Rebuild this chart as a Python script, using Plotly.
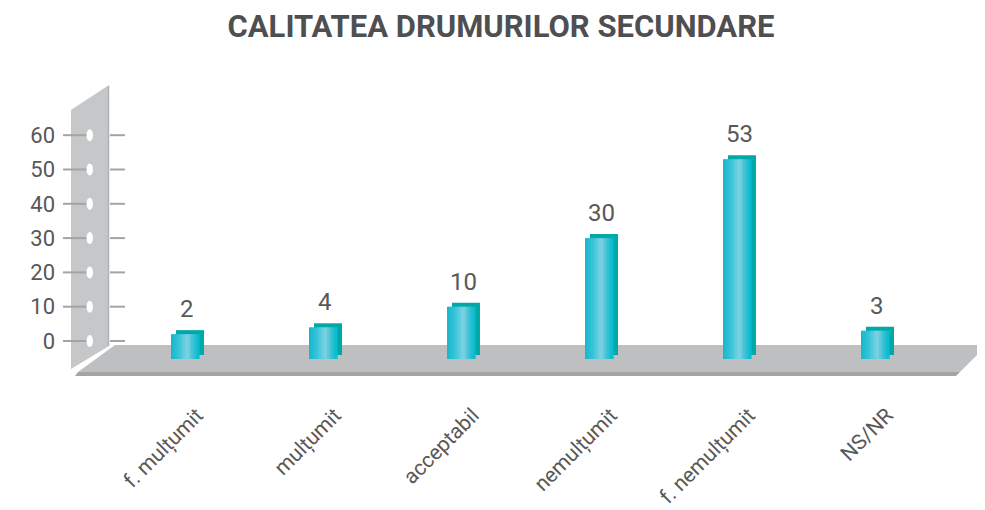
import plotly.graph_objects as go

# ---------------- data ----------------
title_text = "CALITATEA DRUMURILOR SECUNDARE"
categories = ["f. mulțumit", "mulțumit", "acceptabil", "nemulțumit", "f. nemulțumit", "NS/NR"]
values = [2, 4, 10, 30, 53, 3]
y_tick_values = [0, 10, 20, 30, 40, 50, 60]

# ---------------- geometry / style ----------------
# The page body has an 8px margin, so the figure starts at (8, 8) of the window.
PAGE_OFF = 8
W, H = 985 - PAGE_OFF, 510 - PAGE_OFF
# plot area in window coordinates
PL, PR, PT, PB = 66, 985, 75, 390
L, T = PL - PAGE_OFF, PT - PAGE_OFF
R, B = W - (PR - PAGE_OFF), H - (PB - PAGE_OFF)
plot_w = PR - PL
plot_h = PB - PT
PX_PER_CAT = 138.0
PX_PER_UNIT = 3.43
ZERO_PX = 341.0
FIRST_CAT_PX = 185.0

x_lo = -(FIRST_CAT_PX - PL) / PX_PER_CAT
x_range = [x_lo, x_lo + plot_w / PX_PER_CAT]
y_range = [-(PB - ZERO_PX) / PX_PER_UNIT, (ZERO_PX - PT) / PX_PER_UNIT]

def px_x(px):
    return (px - PL) / plot_w

def px_y(py):
    return (PB - py) / plot_h

def poly(points):
    return "M " + " L ".join(f"{px_x(x):.5f},{px_y(y):.5f}" for x, y in points) + " Z"

TEXT = "#58585a"
FONT = "Roboto"
WALL = "#c6c7c9"
FLOOR = "#bebfc1"
FLOOR_EDGE = "#a3a4a6"
DASH = "#a3a4a6"
SHADOW = "#00a8a7"
GRAD = [(0.0, (20, 182, 204)), (0.3, (60, 196, 216)), (0.58, (128, 210, 226)),
        (0.8, (50, 195, 214)), (1.0, (0, 186, 206))]

def grad_color(t):
    for (t0, c0), (t1, c1) in zip(GRAD[:-1], GRAD[1:]):
        if t0 <= t <= t1:
            f = (t - t0) / (t1 - t0)
            c = [round(a + (b - a) * f) for a, b in zip(c0, c1)]
            return f"rgb({c[0]},{c[1]},{c[2]})"
    return "rgb(0,186,206)"

FRONT_W_PX = 28.0
FRONT_BOTTOM_PX = 359.0
SHADOW_BOTTOM_PX = 355.0
SHADOW_LIFT_PX = 4.0
SHADOW_SHIFT_PX = 5.0
front_base = -(FRONT_BOTTOM_PX - ZERO_PX) / PX_PER_UNIT
shadow_base = -(SHADOW_BOTTOM_PX - ZERO_PX) / PX_PER_UNIT
shadow_lift = SHADOW_LIFT_PX / PX_PER_UNIT

fig = go.Figure()

# shadow (back face) bars
fig.add_trace(go.Bar(
    x=categories, y=[v + shadow_lift - shadow_base for v in values], base=shadow_base,
    width=FRONT_W_PX / PX_PER_CAT, offset=(SHADOW_SHIFT_PX - FRONT_W_PX / 2) / PX_PER_CAT,
    marker=dict(color=SHADOW, line=dict(width=0)), hoverinfo="skip", showlegend=False))

# front bars built from thin strips to imitate a cylinder gradient
N = 14
strip = FRONT_W_PX / N
for i in range(N):
    t = (i + 0.5) / N
    fig.add_trace(go.Bar(
        x=categories, y=[v - front_base for v in values], base=front_base,
        width=(strip + 0.6) / PX_PER_CAT,
        offset=(-FRONT_W_PX / 2 + i * strip) / PX_PER_CAT,
        marker=dict(color=grad_color(t), line=dict(width=0)),
        hoverinfo="skip", showlegend=False))

shapes = []
# wall
shapes.append(dict(type="path", xref="paper", yref="paper", layer="below",
                   path=poly([(71, 110), (109, 85), (109, 346), (71, 369)]),
                   fillcolor=WALL, line=dict(width=0)))
shapes.append(dict(type="line", xref="paper", yref="paper", layer="below",
                   x0=px_x(108.5), x1=px_x(108.5), y0=px_y(86), y1=px_y(346),
                   line=dict(color="#b0b1b3", width=1.5)))
# floor
shapes.append(dict(type="path", xref="paper", yref="paper", layer="below",
                   path=poly([(115, 345), (987, 345), (960, 372), (78, 372)]),
                   fillcolor=FLOOR, line=dict(width=0)))
shapes.append(dict(type="path", xref="paper", yref="paper", layer="below",
                   path=poly([(78, 372), (960, 372), (956, 376), (75, 376)]),
                   fillcolor=FLOOR_EDGE, line=dict(width=0)))
# tick dashes and wall holes
for v in y_tick_values:
    shapes.append(dict(type="line", xref="paper", yref="y", layer="below",
                       x0=px_x(63), x1=px_x(88), y0=v, y1=v,
                       line=dict(color=DASH, width=2)))
    shapes.append(dict(type="line", xref="paper", yref="y", layer="below",
                       x0=px_x(110), x1=px_x(125), y0=v, y1=v,
                       line=dict(color=DASH, width=2)))
    shapes.append(dict(type="circle", xref="paper", yref="y", layer="below",
                       ysizemode="pixel", yanchor=v, y0=-6, y1=6,
                       x0=px_x(86.5), x1=px_x(93), fillcolor="white", line=dict(width=0)))

annotations = [dict(x=c, y=v, yshift=25, xshift=2, text=str(v), showarrow=False,
                    font=dict(family=FONT, size=24, color=TEXT))
               for c, v in zip(categories, values)]

fig.update_layout(
    width=W, height=H,
    margin=dict(l=L, r=R, t=T, b=B, pad=0, autoexpand=False),
    paper_bgcolor="white", plot_bgcolor="white",
    barmode="overlay",
    title=dict(text=f"<b>{title_text}</b>", x=(501 - PAGE_OFF) / W, xanchor="center",
               yref="container", y=1 - (26 - PAGE_OFF) / H, yanchor="middle",
               font=dict(family=FONT, size=31, color="#4f4f51")),
    xaxis=dict(type="category", range=x_range, showgrid=False, zeroline=False,
               showline=False, ticks="", tickangle=-45, automargin=False,
               ticklabelstandoff=8, ticklabelshift=12,
               tickfont=dict(family=FONT, size=21, color=TEXT)),
    yaxis=dict(range=y_range, tickvals=y_tick_values, showgrid=False, zeroline=False,
               showline=False, ticks="", ticklabelstandoff=10, automargin=False,
               tickfont=dict(family=FONT, size=22, color=TEXT)),
    shapes=shapes, annotations=annotations,
)

fig.write_html("out.html")
